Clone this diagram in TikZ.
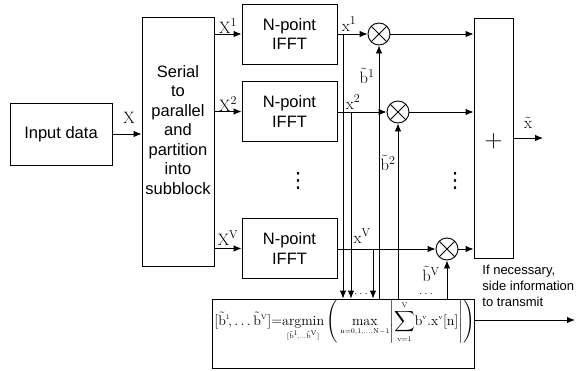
\documentclass[tikz,border=0pt]{standalone}
\usepackage{amsmath}
\usepackage{fontspec}
\setsansfont{Liberation Sans}
\newfontfamily\dejavu{DejaVu Sans}
\usetikzlibrary{arrows.meta}

\begin{document}
\begin{tikzpicture}[x=1pt,y=-1pt,line width=0.9pt,
  blk/.style={draw, rectangle, align=center, font=\sffamily\fontsize{16.5}{19.5}\selectfont},
  mul/.style={draw, circle, minimum size=22pt, inner sep=0pt,
    path picture={\draw (path picture bounding box.north west) -- (path picture bounding box.south east)
      (path picture bounding box.north east) -- (path picture bounding box.south west);}},
  lbl/.style={font=\fontsize{16.5}{18}\selectfont, inner sep=0pt},
  dts/.style={font=\dejavu\fontsize{21}{21}\selectfont, inner sep=0pt},
  arr/.style={-{Latex[length=8pt,width=6.5pt]}}]
\useasboundingbox (0,0) rectangle (584,370);
\node[blk, minimum width=102pt, minimum height=62pt] (input) at (61,134) {Input data};
\node[draw, minimum width=72pt, minimum height=249pt] (s2p) at (178,141.5) {};
\node[blk, draw=none] (s2ptext) at (178,130) {Serial\\to\\parallel\\and\\partition\\into\\subblock};
\node[blk, minimum width=95pt, minimum height=60pt] (ifft1) at (289.5,34) {N-point\\IFFT};
\node[blk, minimum width=95pt, minimum height=60pt] (ifft2) at (289.5,111.5) {N-point\\IFFT};
\node[blk, minimum width=95pt, minimum height=60pt] (ifftV) at (289.5,248.5) {N-point\\IFFT};
\node[mul] (mul1) at (379,34) {};
\node[mul] (mul2) at (398,112) {};
\node[mul] (mulV) at (447,249) {};
\node[draw, minimum width=39pt, minimum height=240pt] (sum) at (493.5,138) {};
\node[font=\fontsize{26}{26}\selectfont, inner sep=0pt] (plus) at (493.5,141) {$+$};
\node[draw, minimum width=262pt, minimum height=69pt] (opt) at (343,333.5) {};
\node[anchor=base west, inner sep=0pt, font=\fontsize{14}{18}\selectfont] (optf) at (214,325)
  {$\displaystyle [\tilde{\mathrm{b}}^{\scriptscriptstyle 1}\!,\ldots\tilde{\mathrm{b}}^{\scriptscriptstyle\mathrm{V}}]{=}\!\mathop{\mathrm{argmin}}_{\scriptscriptstyle[\tilde{\mathrm{b}}^{1}\!,\ldots\tilde{\mathrm{b}}^{\mathrm{V}}]}\Bigg(\max_{\scriptscriptstyle\mathrm{n}=0,1,\ldots,\mathrm{N}-1}\!\Bigg|\!\sum_{\scriptscriptstyle\mathrm{v}=1}^{\scriptscriptstyle\mathrm{V}}\!\mathrm{b}^{\scriptscriptstyle\mathrm{v}}.\mathrm{x}^{\scriptscriptstyle\mathrm{v}}[\mathrm{n}]\Bigg|\Bigg)$};
\node[anchor=west, align=left, inner sep=0pt, font=\sffamily\fontsize{13}{16}\selectfont] (sidetxt) at (482,286)
  {If necessary,\\side information\\to transmit};
\node[dts] (vd1) at (298,181) {⋮};
\node[dts] (vd2) at (455,181) {⋮};
\node[font=\fontsize{13}{13}\selectfont, inner sep=0pt] (hd1) at (361,294) {$\ldots$};
\node[font=\fontsize{13}{13}\selectfont, inner sep=0pt] (hd2) at (426,294) {$\ldots$};
\node[lbl] (lX) at (129,118) {$\mathrm{X}$};
\node[lbl] (lX1) at (228,26) {$\mathrm{X}^{1}$};
\node[lbl] (lX2) at (228,104) {$\mathrm{X}^{2}$};
\node[lbl] (lXV) at (228,238) {$\mathrm{X}^{\mathrm{V}}$};
\node[lbl] (lx1) at (349,24) {$\mathrm{x}^{1}$};
\node[lbl] (lx2) at (353,102) {$\mathrm{x}^{2}$};
\node[lbl] (lxV) at (362,236) {$\mathrm{x}^{\mathrm{V}}$};
\node[lbl] (lb1) at (367,76) {$\tilde{\mathrm{b}}^{1}$};
\node[lbl] (lb2) at (388,163) {$\tilde{\mathrm{b}}^{2}$};
\node[lbl] (lbV) at (431,274) {$\tilde{\mathrm{b}}^{\mathrm{V}}$};
\node[lbl] (lxt) at (528,123) {$\tilde{\mathrm{x}}$};
\coordinate (t1) at (343,34);
\coordinate (t2) at (351,112);
\coordinate (tV) at (373,249);
\coordinate (xout) at (543,138);
\coordinate (side) at (575,320);
\draw[arr] (input.east) -- (input.east -| s2p.west);
\draw[arr] (ifft1.west -| s2p.east) -- (ifft1.west);
\draw[arr] (ifft2.west -| s2p.east) -- (ifft2.west);
\draw[arr] (ifftV.west -| s2p.east) -- (ifftV.west);
\draw[arr] (ifft1.east) -- (mul1.west);
\draw[arr] (ifft2.east |- mul2.west) -- (mul2.west);
\draw[arr] (ifftV.east |- mulV.west) -- (mulV.west);
\draw[arr] (t1) -- (t1 |- opt.north);
\draw[arr] (t2) -- (t2 |- opt.north);
\draw[arr] (tV) -- (tV |- opt.north);
\draw[arr] (mul1 |- opt.north) -- (mul1.south);
\draw[arr] (mul2 |- opt.north) -- (mul2.south);
\draw[arr] (mulV |- opt.north) -- (mulV.south);
\draw[arr] (mul1.east) -- (mul1.east -| sum.west);
\draw[arr] (mul2.east) -- (mul2.east -| sum.west);
\draw[arr] (mulV.east) -- (mulV.east -| sum.west);
\draw[arr] (sum.east |- xout) -- (xout);
\draw[arr] (side -| opt.east) -- (side);
\end{tikzpicture}
\end{document}
